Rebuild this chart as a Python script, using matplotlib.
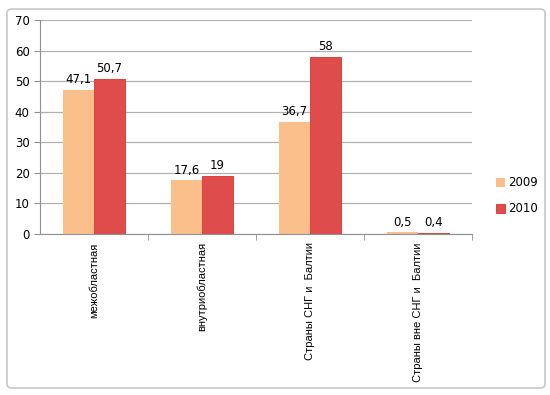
import matplotlib.pyplot as plt
from matplotlib.patches import FancyBboxPatch
import numpy as np

categories = ['межобластная', 'внутриобластная', 'Страны СНГ и  Балтии', 'Страны вне СНГ и  Балтии']
v2009 = [47.1, 17.6, 36.7, 0.5]
v2010 = [50.7, 19, 58, 0.4]
lab2009 = ['47,1', '17,6', '36,7', '0,5']
lab2010 = ['50,7', '19', '58', '0,4']

fig = plt.figure(figsize=(5.5, 3.95), dpi=100)
fig.patches.append(FancyBboxPatch((7 / 550, 7 / 395), 538 / 550, 379 / 395,
                                  boxstyle='round,pad=0,rounding_size=0.01',
                                  transform=fig.transFigure, fill=False,
                                  edgecolor='#c8c8c8', linewidth=1.2))
ax = fig.add_axes([40 / 550, 1 - 234 / 395, 432 / 550, 214 / 395])

x = np.arange(len(categories))
w = 0.287
b1 = ax.bar(x - w / 2, v2009, w, color='#fbbf8c', label='2009')
b2 = ax.bar(x + w / 2, v2010, w, color='#de4d4b', edgecolor='#e0302c', linewidth=0.6, label='2010')

for rect, t in zip(b1, lab2009):
    ax.text(rect.get_x() + rect.get_width() / 2, rect.get_height() + 1.2, t,
            ha='center', va='bottom', fontsize=8.5)
for rect, t in zip(b2, lab2010):
    ax.text(rect.get_x() + rect.get_width() / 2, rect.get_height() + 1.2, t,
            ha='center', va='bottom', fontsize=8.5)

ax.set_xlim(-0.5, 3.5)
ax.set_ylim(0, 70)
ax.set_yticks(range(0, 71, 10))
ax.grid(axis='y', color='#b0b0b0', linewidth=0.9)
ax.set_axisbelow(True)
ax.set_xticks(x)
ax.set_xticklabels(categories, rotation=90, fontsize=8, family='Liberation Sans')
ax.tick_params(axis='x', length=0, pad=6)
ax.set_xticks([0.5, 1.5, 2.5, 3.5], minor=True)
ax.tick_params(axis='x', which='minor', length=4, color='#909090')
ax.tick_params(axis='y', labelsize=8.5, length=4, color='#909090')
for s in ['top', 'right']:
    ax.spines[s].set_visible(False)
for s in ['left', 'bottom']:
    ax.spines[s].set_color('#909090')

ax.legend(loc='upper left', bbox_to_anchor=(1.03, 0.32), frameon=False,
          fontsize=8.5, handlelength=0.8, handleheight=0.8, handletextpad=0.3,
          labelspacing=1.1)

plt.savefig('out.png', dpi=100)
